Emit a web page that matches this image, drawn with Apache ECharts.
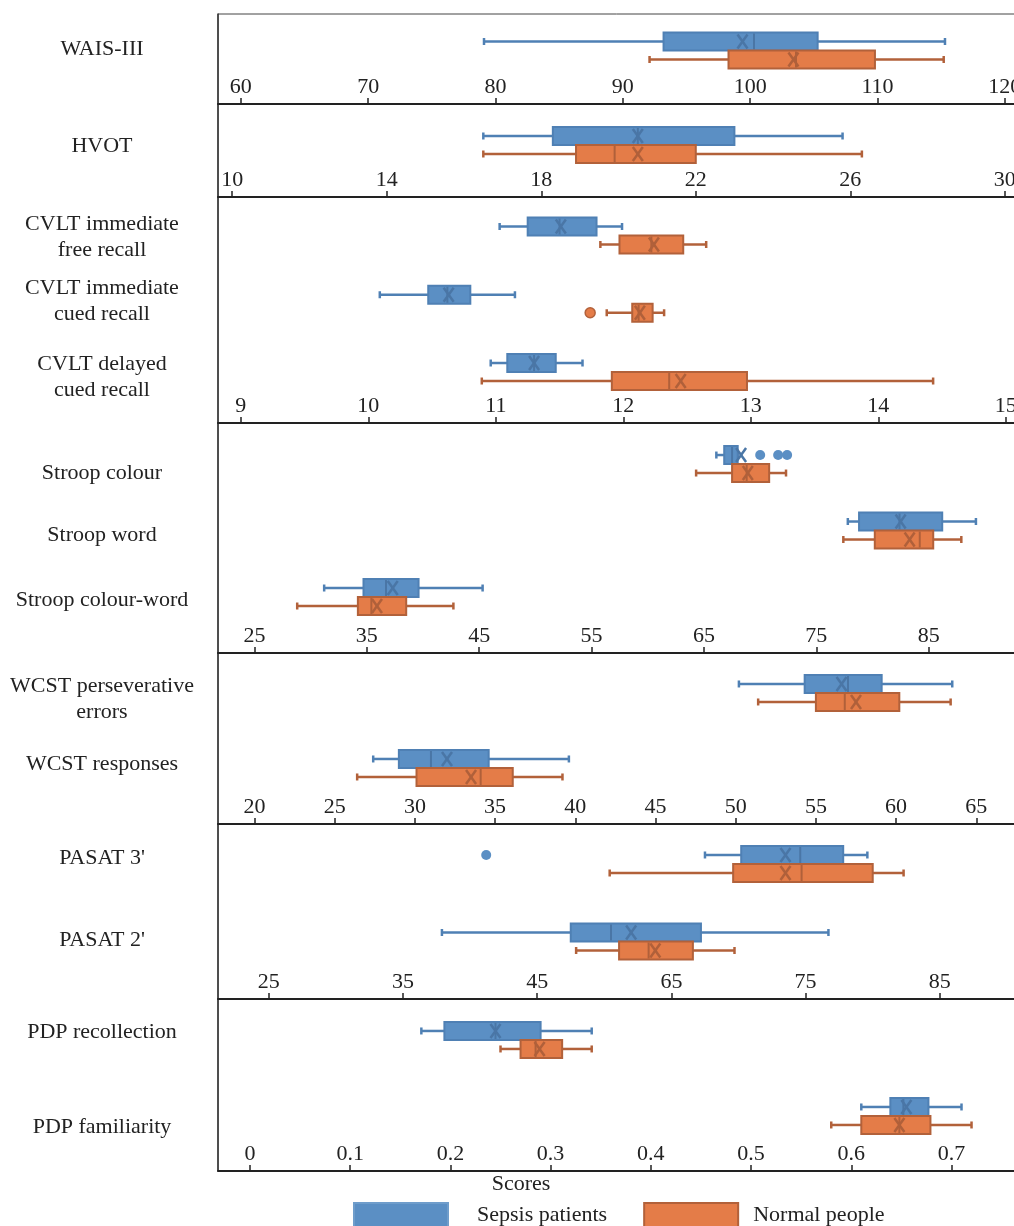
<!DOCTYPE html>
<html>
<head>
<meta charset="utf-8">
<script src="https://cdn.jsdelivr.net/npm/echarts@6/dist/echarts.min.js"></script>
<style>
  html, body { margin: 0; padding: 0; background: #fff; }
  #chart { width: 1014px; height: 1226px; }
</style>
</head>
<body>
<div id="chart"></div>
<script>
// ---------------- DATA ----------------
// each box: [min, q1, median, q3, max, mean]
const SERIES_NAMES = ['Sepsis patients', 'Normal people'];

const waisCategories = ['WAIS-III'];
const waisSepsis = [[79.1, 93.2, 100.3, 105.3, 115.3, 99.4]];
const waisNormal = [[92.1, 98.3, 103.6, 109.8, 115.2, 103.4]];
const waisTicks = [60, 70, 80, 90, 100, 110, 120];
const waisTickLabels = ['60', '70', '80', '90', '100', '110', '120'];

const hvotCategories = ['HVOT'];
const hvotSepsis = [[16.5, 18.3, 20.5, 23.0, 25.8, 20.5]];
const hvotNormal = [[16.5, 18.9, 19.9, 22.0, 26.3, 20.5]];
const hvotTicks = [10, 14, 18, 22, 26, 30];
const hvotTickLabels = ['10', '14', '18', '22', '26', '30'];

const cvltCategories = ['CVLT immediate\nfree recall', 'CVLT immediate\ncued recall', 'CVLT delayed\ncued recall'];
const cvltSepsis = [
  [11.03, 11.25, 11.50, 11.79, 11.99, 11.51],
  [10.09, 10.47, 10.62, 10.80, 11.15, 10.63],
  [10.96, 11.09, 11.30, 11.47, 11.68, 11.30]
];
const cvltNormal = [
  [11.82, 11.97, 12.22, 12.47, 12.65, 12.24],
  [11.87, 12.07, 12.12, 12.23, 12.32, 12.13],
  [10.89, 11.91, 12.36, 12.97, 14.43, 12.45]
];
const cvltOutliersNormal = [[1, 11.74]];
const cvltTicks = [9, 10, 11, 12, 13, 14, 15];
const cvltTickLabels = ['9', '10', '11', '12', '13', '14', '15'];

const stroopCategories = ['Stroop colour', 'Stroop word', 'Stroop colour-word'];
const stroopSepsis = [
  [66.1, 66.8, 67.5, 68.0, 68.0, 68.3],
  [77.8, 78.8, 82.4, 86.2, 89.2, 82.5],
  [31.2, 34.7, 36.7, 39.6, 45.3, 37.3]
];
const stroopNormal = [
  [64.3, 67.5, 68.8, 70.8, 72.3, 68.9],
  [77.4, 80.2, 84.2, 85.4, 87.9, 83.3],
  [28.8, 34.2, 35.4, 38.5, 42.7, 35.9]
];
const stroopOutliersSepsis = [[0, 70.0], [0, 71.6], [0, 72.4]];
const stroopTicks = [25, 35, 45, 55, 65, 75, 85];
const stroopTickLabels = ['25', '35', '45', '55', '65', '75', '85'];

const wcstCategories = ['WCST perseverative\nerrors', 'WCST responses'];
const wcstSepsis = [
  [50.2, 54.3, 57.0, 59.1, 63.5, 56.6],
  [27.4, 29.0, 31.0, 34.6, 39.6, 32.0]
];
const wcstNormal = [
  [51.4, 55.0, 56.8, 60.2, 63.4, 57.5],
  [26.4, 30.1, 34.1, 36.1, 39.2, 33.5]
];
const wcstTicks = [20, 25, 30, 35, 40, 45, 50, 55, 60, 65];
const wcstTickLabels = ['20', '25', '30', '35', '40', '45', '50', '55', '60', '65'];

const pasatCategories = ["PASAT 3'", "PASAT 2'"];
const pasatSepsis = [
  [57.5, 60.2, 64.6, 67.8, 69.6, 63.5],
  [37.9, 47.5, 50.5, 57.2, 66.7, 52.0]
];
const pasatNormal = [
  [50.4, 59.6, 64.7, 70.0, 72.3, 63.5],
  [47.9, 51.1, 53.3, 56.6, 59.7, 53.8]
];
const pasatOutliersSepsis = [[0, 41.2]];
const pasatTicks = [25, 35, 45, 55, 65, 75];
const pasatTickLabels = ['25', '35', '45', '65', '75', '85'];

const pdpCategories = ['PDP recollection', 'PDP familiarity'];
const pdpSepsis = [
  [0.171, 0.194, 0.245, 0.290, 0.341, 0.245],
  [0.610, 0.639, 0.652, 0.677, 0.710, 0.655]
];
const pdpNormal = [
  [0.250, 0.270, 0.285, 0.3115, 0.341, 0.289],
  [0.580, 0.610, 0.648, 0.679, 0.720, 0.648]
];
const pdpTicks = [0, 0.1, 0.2, 0.3, 0.4, 0.5, 0.6, 0.7];
const pdpTickLabels = ['0', '0.1', '0.2', '0.3', '0.4', '0.5', '0.6', '0.7'];

const axisTitle = 'Scores';

// ---------------- LAYOUT / STYLE ----------------
const FONT = '"Liberation Serif", "Times New Roman", serif';
const TEXT = '#222';
const STYLE = [
  { fill: '#5b8fc4', stroke: '#4f80b4', dark: '#4a76a6', offset: -9 },
  { fill: '#e47c48', stroke: '#b2613a', dark: '#b0603a', offset: 9 }
];

// labelShift: vertical nudge (px) of each left-hand row label relative to its box pair
const panels = [
  { cats: waisCategories, s: waisSepsis, n: waisNormal, ticks: waisTicks, labels: waisTickLabels,
    top: 14, height: 90, xmin: 58.21, xmax: 123.39, ymin: -0.537, ymax: 0.787, labelShift: [-1] },
  { cats: hvotCategories, s: hvotSepsis, n: hvotNormal, ticks: hvotTicks, labels: hvotTickLabels,
    top: 104, height: 93, xmin: 9.632, xmax: 31.118, ymin: -0.603, ymax: 0.765, labelShift: [1] },
  { cats: cvltCategories, s: cvltSepsis, n: cvltNormal, ticks: cvltTicks, labels: cvltTickLabels,
    outN: cvltOutliersNormal,
    top: 197, height: 226, xmin: 8.821, xmax: 15.331, ymin: -0.564, ymax: 2.747, labelShift: [2, -3, 5] },
  { cats: stroopCategories, s: stroopSepsis, n: stroopNormal, ticks: stroopTicks, labels: stroopTickLabels,
    outS: stroopOutliersSepsis,
    top: 423, height: 230, xmin: 21.752, xmax: 95.614, ymin: -0.617, ymax: 2.842, labelShift: [9, 5, 3] },
  { cats: wcstCategories, s: wcstSepsis, n: wcstNormal, ticks: wcstTicks, labels: wcstTickLabels,
    top: 653, height: 171, xmin: 17.724, xmax: 69.47, ymin: -0.533, ymax: 1.747, labelShift: [6, -4] },
  { cats: pasatCategories, s: pasatSepsis, n: pasatNormal, ticks: pasatTicks, labels: pasatTickLabels,
    outS: pasatOutliersSepsis,
    top: 824, height: 175, xmin: 21.215, xmax: 83.06, ymin: -0.516, ymax: 1.742, labelShift: [-6, -1] },
  { cats: pdpCategories, s: pdpSepsis, n: pdpNormal, ticks: pdpTicks, labels: pdpTickLabels,
    top: 999, height: 172, xmin: -0.0319, xmax: 0.7963, ymin: -0.539, ymax: 1.724, labelShift: [-8, 11] }
];

function makeRender(st) {
  return function (params, api) {
    const cat = api.value(0);
    const X = v => api.coord([v, cat])[0];
    const y = api.coord([api.value(1), cat])[1] + st.offset;
    const xMin = X(api.value(1)), xQ1 = X(api.value(2)), xMed = X(api.value(3));
    const xQ3 = X(api.value(4)), xMax = X(api.value(5)), xMean = X(api.value(6));
    const h = 18, cap = 3.5, lw = 2.5;
    const ls = { stroke: st.stroke, lineWidth: lw };
    const children = [
      { type: 'line', shape: { x1: xMin, y1: y, x2: xQ1, y2: y }, style: ls },
      { type: 'line', shape: { x1: xMin, y1: y - cap, x2: xMin, y2: y + cap }, style: ls },
      { type: 'line', shape: { x1: xQ3, y1: y, x2: xMax, y2: y }, style: ls },
      { type: 'line', shape: { x1: xMax, y1: y - cap, x2: xMax, y2: y + cap }, style: ls },
      { type: 'rect', shape: { x: xQ1, y: y - h / 2, width: xQ3 - xQ1, height: h },
        style: { fill: st.fill, stroke: st.stroke, lineWidth: 2 } },
      { type: 'line', shape: { x1: xMed, y1: y - h / 2 + 1, x2: xMed, y2: y + h / 2 - 1 },
        style: { stroke: st.dark, lineWidth: 2 } },
      { type: 'line', shape: { x1: xMean - 5, y1: y - 7, x2: xMean + 5, y2: y + 7 },
        style: { stroke: st.dark, lineWidth: 2.5 } },
      { type: 'line', shape: { x1: xMean + 5, y1: y - 7, x2: xMean - 5, y2: y + 7 },
        style: { stroke: st.dark, lineWidth: 2.5 } }
    ];
    return { type: 'group', children };
  };
}

const grid = [], xAxis = [], yAxis = [], series = [];
panels.forEach((p, i) => {
  grid.push({ left: 218, top: p.top, width: 830, height: p.height,
    outerBoundsMode: 'none', containLabel: false,
    show: true, borderColor: '#444', borderWidth: 1, backgroundColor: 'transparent' });
  xAxis.push({
    type: 'value', gridIndex: i, min: p.xmin, max: p.xmax,
    axisLine: { show: true, onZero: false, lineStyle: { color: '#222', width: 2 } },
    axisTick: { show: true, inside: true, length: 6, customValues: p.ticks,
      lineStyle: { color: '#222', width: 1.5 } },
    splitLine: { show: false },
    axisLabel: {
      show: true, inside: true, margin: 6, customValues: p.ticks,
      fontFamily: FONT, fontSize: 22, color: TEXT,
      formatter: (v) => {
        let best = 0;
        p.ticks.forEach((t, k) => { if (Math.abs(t - v) < Math.abs(p.ticks[best] - v)) best = k; });
        return p.labels[best];
      }
    }
  });
  yAxis.push({
    type: 'value', gridIndex: i, inverse: true, min: p.ymin, max: p.ymax,
    axisLine: { show: true, onZero: false, lineStyle: { color: '#333', width: 1.5 } },
    axisTick: { show: false },
    splitLine: { show: false },
    axisLabel: { show: false }
  });
  [p.s, p.n].forEach((arr, si) => {
    series.push({
      type: 'custom', name: SERIES_NAMES[si], xAxisIndex: i, yAxisIndex: i,
      renderItem: makeRender(STYLE[si]),
      encode: { x: [1, 2, 3, 4, 5, 6], y: 0 },
      itemStyle: { color: STYLE[si].fill },
      data: arr.map((d, k) => [k].concat(d)),
      silent: true, animation: false
    });
  });
  [[p.outS, 0], [p.outN, 1]].forEach(([out, si]) => {
    if (!out) return;
    series.push({
      type: 'scatter', name: SERIES_NAMES[si], xAxisIndex: i, yAxisIndex: i,
      symbol: 'circle', symbolSize: 10, symbolOffset: [0, STYLE[si].offset],
      itemStyle: { color: STYLE[si].fill, borderColor: si ? STYLE[si].stroke : STYLE[si].fill, borderWidth: si ? 1.5 : 0, opacity: 1 },
      encode: { x: 1, y: 0 },
      data: out.map(o => [o[0], o[1]]),
      silent: true, animation: false
    });
  });
});

const chart = echarts.init(document.getElementById('chart'), null, { renderer: 'canvas' });
chart.setOption({
  animation: false,
  backgroundColor: '#fff',
  grid, xAxis, yAxis, series,
  legend: {
    left: 353, top: 1202, padding: 0, itemWidth: 94, itemHeight: 24, itemGap: 36,
    selectedMode: false,
    textStyle: { fontFamily: FONT, fontSize: 22, color: TEXT, padding: [0, 0, 0, 24] },
    data: [
      { name: SERIES_NAMES[0], icon: 'rect', itemStyle: { color: STYLE[0].fill, borderColor: '#6f9dcb', borderWidth: 2 } },
      { name: SERIES_NAMES[1], icon: 'rect', itemStyle: { color: STYLE[1].fill, borderColor: STYLE[1].stroke, borderWidth: 2 },
        textStyle: { padding: [0, 0, 0, 10] } }
    ]
  }
});

// Row labels placed at each category's pixel position via the y-axis scales
const graphics = [{
  type: 'text', x: 521, y: 1184,
  style: { text: axisTitle, textAlign: 'center', textVerticalAlign: 'middle',
    fontFamily: FONT, fontSize: 22, fill: TEXT }
}];
panels.forEach((p, i) => {
  p.cats.forEach((name, k) => {
    const py = chart.convertToPixel({ yAxisIndex: i }, k);
    graphics.push({
      type: 'text', x: 102, y: py + (p.labelShift[k] || 0),
      style: { text: name, textAlign: 'center', textVerticalAlign: 'middle',
        fontFamily: FONT, fontSize: 22, lineHeight: 26, fill: TEXT }
    });
  });
});
chart.setOption({ graphic: graphics });
</script>
</body>
</html>
